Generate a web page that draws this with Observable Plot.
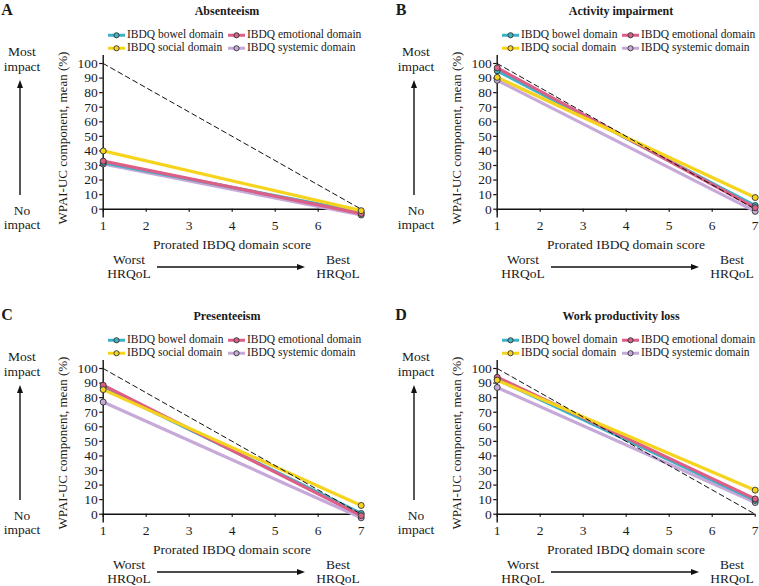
<!DOCTYPE html>
<html><head><meta charset="utf-8">
<script src="https://cdn.jsdelivr.net/npm/d3@7"></script>
<script src="https://cdn.jsdelivr.net/npm/@observablehq/plot@0.6"></script>
<style>
body{margin:0;background:#fff;}
#root{position:relative;width:759px;height:586px;overflow:hidden;font-family:"Liberation Serif",serif;color:#1a1a1a;}
.panel{position:absolute;width:380px;height:300px;}
.t{position:absolute;white-space:nowrap;line-height:1;transform:translate(-50%,-50%);text-align:center;}
.leg{position:absolute;white-space:nowrap;line-height:1;font-size:11.5px;display:flex;align-items:center;transform:translateY(-50%);}
.leg svg{margin-right:2px;}
.plotwrap{position:absolute;left:0;top:0;}
.deco{position:absolute;left:0;top:0;overflow:visible;}
</style></head><body><div id="root"></div>
<script>
// ---- data ----
const domains = ["IBDQ bowel domain", "IBDQ emotional domain", "IBDQ social domain", "IBDQ systemic domain"];
const domainColors = ["#3cb2c6", "#db5f87", "#f6d41e", "#c6a9d8"];
const drawOrder = ["IBDQ systemic domain", "IBDQ bowel domain", "IBDQ emotional domain", "IBDQ social domain"];
const scorePoints = [1, 7];           // prorated IBDQ domain score (worst, best)
const referenceY = [100, 0];          // dashed reference line
const panelLetters = ["A", "B", "C", "D"];
const panelTitles = ["Absenteeism", "Activity impairment", "Presenteeism", "Work productivity loss"];
const yTicks = [0, 10, 20, 30, 40, 50, 60, 70, 80, 90, 100];
const xTicksA = [1, 2, 3, 4, 5, 6];
const xTicksFull = [1, 2, 3, 4, 5, 6, 7];
// values per domain (bowel, emotional, social, systemic)
const absenteeismWorst = [32, 33, 40, 31];
const absenteeismBest = [-2, -3, -1, -4];
const activityWorst = [95, 97, 90.5, 88.5];
const activityBest = [2.5, 1, 8, -1.5];
const presenteeismWorst = [87, 88.5, 85.5, 77];
const presenteeismBest = [0.5, -1, 6, -2.5];
const workLossWorst = [92.5, 94, 92, 87];
const workLossBest = [9.5, 10.5, 16.5, 8];

const panels = [
  {worst: absenteeismWorst, best: absenteeismBest, xt: xTicksA},
  {worst: activityWorst, best: activityBest, xt: xTicksFull},
  {worst: presenteeismWorst, best: presenteeismBest, xt: xTicksFull},
  {worst: workLossWorst, best: workLossBest, xt: xTicksFull}
];
const offsets = [[0, 0], [394, 0], [0, 305], [394, 305]];

const root = document.getElementById("root");
const FONT = '"Liberation Serif", serif';

function text(parent, str, x, y, size, weight) {
  const d = document.createElement("div");
  d.className = "t";
  d.style.left = x + "px"; d.style.top = y + "px";
  d.style.fontSize = size + "px";
  if (weight) d.style.fontWeight = weight;
  d.innerHTML = str;
  parent.appendChild(d);
  return d;
}

panels.forEach((p, k) => {
  const panel = document.createElement("div");
  panel.className = "panel";
  panel.style.left = offsets[k][0] + "px";
  panel.style.top = offsets[k][1] + "px";
  root.appendChild(panel);

  const rows = [];
  drawOrder.forEach(dn => {
    const i = domains.indexOf(dn);
    rows.push({domain: dn, x: scorePoints[0], y: p.worst[i]});
    rows.push({domain: dn, x: scorePoints[1], y: p.best[i]});
  });
  const ref = scorePoints.map((x, i) => ({x, y: referenceY[i]}));

  const chart = Plot.plot({
    width: 370, height: 245,
    marginLeft: 102.7, marginRight: 9.3, marginTop: 55, marginBottom: 36.3,
    x: {domain: [1, 7]},
    y: {domain: [0, 105.5]},
    color: {domain: domains, range: domainColors},
    style: {fontFamily: FONT, fontSize: "13.5px", color: "#1a1a1a", background: "transparent", overflow: "visible"},
    marks: [
      Plot.ruleX([1], {stroke: "#111", strokeWidth: 1.4, insetBottom: -8.7}),
      Plot.ruleY([0], {stroke: "#111", strokeWidth: 1.4}),
      Plot.axisY({ticks: yTicks, tickSize: 3.5, tickPadding: 2, tickFormat: d => d, label: null, stroke: "#111", strokeWidth: 1.2}),
      Plot.axisX({ticks: p.xt, tickSize: 3, tickPadding: 8, tickFormat: d => d, label: null, stroke: "#111", strokeWidth: 1.2}),
      Plot.line(rows, {x: "x", y: "y", z: "domain", stroke: "domain", strokeWidth: 3.2}),
      Plot.line(ref, {x: "x", y: "y", stroke: "#111", strokeWidth: 1, strokeDasharray: "5,3.5"}),
      Plot.dot(rows, {x: "x", y: "y", fill: "domain", stroke: "#333", strokeWidth: 0.9, r: 3})
    ]
  });
  const wrap = document.createElement("div");
  wrap.className = "plotwrap";
  wrap.appendChild(chart);
  panel.appendChild(wrap);

  // letter + title
  text(panel, panelLetters[k], 7, 10, 16, "bold");
  text(panel, panelTitles[k], 227, 11, 12, "bold");

  // legend
  const legPos = [[108, 35], [228, 35], [108, 48], [228, 48]];
  domains.forEach((dn, i) => {
    const d = document.createElement("div");
    d.className = "leg";
    d.style.left = legPos[i][0] + "px";
    d.style.top = legPos[i][1] + "px";
    d.innerHTML = `<svg width="17" height="8"><line x1="0" y1="4" x2="17" y2="4" stroke="${domainColors[i]}" stroke-width="3"/><circle cx="8.5" cy="4" r="2.6" fill="${domainColors[i]}" stroke="#333" stroke-width="0.9"/></svg><span>${dn}</span>`;
    panel.appendChild(d);
  });

  // y-axis title
  const yl = document.createElement("div");
  yl.className = "t";
  yl.style.left = "62px"; yl.style.top = "138px"; yl.style.fontSize = "13px";
  yl.style.transform = "translate(-50%,-50%) rotate(-90deg)";
  yl.textContent = "WPAI-UC component, mean (%)";
  panel.appendChild(yl);

  // x-axis title
  text(panel, "Prorated IBDQ domain score", 232, 245, 13.5);

  // annotations
  text(panel, "Most", 22, 52, 13.5);
  text(panel, "impact", 22, 67, 13.5);
  text(panel, "No", 22, 211, 13.5);
  text(panel, "impact", 22, 225, 13.5);
  text(panel, "Worst", 129, 260, 13.5);
  text(panel, "HRQoL", 129, 274, 13.5);
  text(panel, "Best", 338, 260, 13.5);
  text(panel, "HRQoL", 338, 274, 13.5);

  const ns = "http://www.w3.org/2000/svg";
  const deco = document.createElementNS(ns, "svg");
  deco.setAttribute("class", "deco");
  deco.setAttribute("width", "380");
  deco.setAttribute("height", "300");
  deco.innerHTML =
    `<line x1="20" y1="195" x2="20" y2="86" stroke="#111" stroke-width="1.4"/>` +
    `<polygon points="20,80 17,88 23,88" fill="#111"/>` +
    `<line x1="157" y1="267" x2="299" y2="267" stroke="#111" stroke-width="1.4"/>` +
    `<polygon points="305,267 297,264 297,270" fill="#111"/>`;
  panel.appendChild(deco);
});
</script></body></html>
